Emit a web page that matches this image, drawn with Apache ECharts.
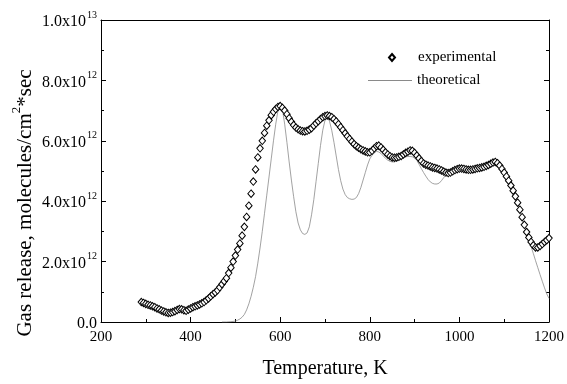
<!DOCTYPE html>
<html>
<head>
<meta charset="utf-8">
<script src="https://cdn.jsdelivr.net/npm/echarts@6/dist/echarts.min.js"></script>
<style>html,body{margin:0;padding:0;background:#fff}#c{width:567px;height:384px}</style>
</head>
<body>
<div id="c"></div>
<script>
// Temperature (K) for experimental points
var expT = [290,295,300,305,310,315,320,325,330,335,340,345,350,355,360,365,370,375,380,385,390,395,400,405,410,415,420,425,430,435,440,445,450,455,460,465,470,475,480,485,490,495,500,505,510,515,520,525,530,535,540,545,550,555,560,565,570,575,580,585,590,595,600,605,610,615,620,625,630,635,640,645,650,655,660,665,670,675,680,685,690,695,700,705,710,715,720,725,730,735,740,745,750,755,760,765,770,775,780,785,790,795,800,805,810,815,820,825,830,835,840,845,850,855,860,865,870,875,880,885,890,895,900,905,910,915,920,925,930,935,940,945,950,955,960,965,970,975,980,985,990,995,1000,1005,1010,1015,1020,1025,1030,1035,1040,1045,1050,1055,1060,1065,1070,1075,1080,1085,1090,1095,1100,1105,1110,1115,1120,1125,1130,1135,1140,1145,1150,1155,1160,1165,1170,1175,1180,1185,1190,1195,1200];
// Experimental gas release (units of 1e12 molecules/cm^2*sec)
var expV = [0.66,0.63,0.60,0.57,0.55,0.52,0.49,0.45,0.42,0.38,0.35,0.32,0.30,0.31,0.33,0.36,0.40,0.43,0.42,0.39,0.37,0.41,0.45,0.49,0.52,0.55,0.58,0.62,0.66,0.72,0.78,0.85,0.92,0.98,1.05,1.15,1.25,1.35,1.45,1.62,1.80,2.00,2.20,2.40,2.60,2.86,3.15,3.48,3.85,4.25,4.65,5.05,5.45,5.75,6.00,6.26,6.50,6.68,6.85,6.96,7.05,7.12,7.15,7.09,7.00,6.88,6.75,6.63,6.52,6.44,6.38,6.34,6.32,6.31,6.33,6.37,6.42,6.50,6.58,6.65,6.72,6.78,6.82,6.84,6.82,6.78,6.72,6.64,6.55,6.45,6.35,6.25,6.15,6.06,5.97,5.89,5.82,5.77,5.72,5.68,5.65,5.62,5.62,5.67,5.75,5.82,5.84,5.78,5.70,5.62,5.55,5.49,5.45,5.44,5.45,5.47,5.50,5.55,5.60,5.64,5.68,5.67,5.60,5.51,5.42,5.33,5.25,5.21,5.18,5.15,5.12,5.10,5.08,5.05,5.02,4.98,4.95,4.93,4.95,4.99,5.03,5.06,5.08,5.08,5.07,5.05,5.04,5.04,5.05,5.07,5.09,5.10,5.12,5.14,5.17,5.20,5.24,5.28,5.30,5.26,5.18,5.07,4.95,4.82,4.68,4.52,4.35,4.16,3.95,3.72,3.47,3.22,2.98,2.80,2.65,2.54,2.47,2.47,2.52,2.58,2.65,2.71,2.78];
// Temperature (K) for theoretical curve
var theoT = [470,480,490,500,505,510,515,520,525,530,535,540,545,550,555,560,565,570,575,580,585,590,595,600,605,610,615,620,625,630,635,640,645,650,655,660,665,670,675,680,685,690,695,700,705,710,715,720,725,730,735,740,745,750,755,760,765,770,775,780,785,790,795,800,805,810,815,820,825,830,835,840,845,850,855,860,865,870,875,880,885,890,895,900,905,910,915,920,925,930,935,940,945,950,955,960,965,970,975,980,985,990,995,1000,1005,1010,1015,1020,1025,1030,1035,1040,1045,1050,1055,1060,1065,1070,1075,1080,1085,1090,1095,1100,1105,1110,1115,1120,1125,1130,1135,1140,1145,1150,1155,1160,1165,1170,1175,1180,1185,1190,1195,1200];
// Theoretical gas release (units of 1e12)
var theoV = [0.00,0.00,0.01,0.03,0.06,0.10,0.16,0.25,0.40,0.60,0.85,1.15,1.50,1.95,2.45,3.00,3.60,4.20,4.80,5.40,6.00,6.55,7.00,7.28,7.05,6.55,5.95,5.30,4.70,4.15,3.65,3.28,3.05,2.93,2.90,2.95,3.15,3.55,4.05,4.65,5.25,5.85,6.35,6.68,6.78,6.65,6.35,5.95,5.50,5.05,4.68,4.40,4.22,4.12,4.08,4.06,4.07,4.12,4.25,4.45,4.70,4.95,5.20,5.40,5.52,5.60,5.65,5.63,5.58,5.50,5.42,5.36,5.32,5.30,5.30,5.33,5.37,5.41,5.45,5.47,5.48,5.48,5.47,5.43,5.35,5.22,5.08,4.95,4.83,4.72,4.64,4.59,4.57,4.57,4.60,4.68,4.78,4.88,4.93,4.97,5.00,5.03,5.05,5.06,5.06,5.05,5.04,5.03,5.03,5.04,5.06,5.08,5.09,5.11,5.13,5.16,5.19,5.23,5.26,5.27,5.22,5.14,5.03,4.91,4.78,4.64,4.48,4.31,4.12,3.91,3.68,3.44,3.20,2.96,2.74,2.50,2.27,2.03,1.80,1.57,1.35,1.13,0.93,0.78];
// Axis ticks
var xTicks = [200,400,600,800,1000,1200];
var yTicks = [0,2,4,6,8,10];
var seriesNames = ['experimental','theoretical'];

var FONT = 'Liberation Serif';
function zip(a,b){var r=[];for(var i=0;i<a.length;i++)r.push([a[i],b[i]]);return r;}
function yFmt(v){
  if (v===0) return '{b|0.0}';
  var val = v*1e12;
  var e = Math.floor(Math.log10(val)+1e-9);
  var m = val/Math.pow(10,e);
  return '{b|'+m.toFixed(1)+'x10}{s|'+e+'}';
}
var chart = echarts.init(document.getElementById('c'), null, {renderer:'canvas'});
var option = {
  animation:false,
  backgroundColor:'#fff',
  grid:{left:101,right:16,top:20,bottom:56,containLabel:false},
  legend:[{
    orient:'vertical', left:388, top:50, padding:0, itemWidth:6, itemHeight:7,
    data:[{name:seriesNames[0], icon:'diamond'}],
    formatter:function(n){return '{sp|}{t|'+n+'}';},
    textStyle:{fontFamily:FONT,fontSize:15,color:'#000',
      rich:{sp:{width:18},t:{fontFamily:FONT,fontSize:15,color:'#000'}}}
  },{
    orient:'vertical', left:368, top:73, padding:0, itemWidth:44, itemHeight:1,
    data:[{name:seriesNames[1], icon:'rect'}],
    textStyle:{fontFamily:FONT,fontSize:15,color:'#000'}
  }],
  xAxis:[{
    type:'value', min:xTicks[0], max:xTicks[xTicks.length-1], interval:200,
    name:'Temperature, K', nameLocation:'middle', nameGap:37,
    nameTextStyle:{fontFamily:FONT,fontSize:20,color:'#000'},
    axisLine:{show:true,onZero:false,lineStyle:{color:'#000',width:1}},
    axisTick:{show:true,inside:true,length:5,lineStyle:{color:'#000'}},
    minorTick:{show:true,splitNumber:2,length:3,lineStyle:{color:'#000'}},
    axisLabel:{fontFamily:FONT,fontSize:15,color:'#000',margin:8,
      formatter:function(v){return String(v);}},
    splitLine:{show:false}
  },{
    type:'value', position:'top', min:200, max:1200, interval:200,
    axisLine:{show:true,onZero:false,lineStyle:{color:'#000',width:1}},
    axisTick:{show:false}, axisLabel:{show:false}, splitLine:{show:false}
  }],
  yAxis:[{
    type:'value', min:yTicks[0], max:yTicks[yTicks.length-1], interval:2,
    axisLine:{show:true,onZero:false,lineStyle:{color:'#000',width:1}},
    axisTick:{show:true,inside:true,length:5,lineStyle:{color:'#000'}},
    minorTick:{show:true,splitNumber:2,length:3,lineStyle:{color:'#000'}},
    axisLabel:{formatter:yFmt,margin:4,color:'#000',
      rich:{b:{fontFamily:FONT,fontSize:16,color:'#000',lineHeight:20,verticalAlign:'bottom'},
            s:{fontFamily:FONT,fontSize:10,color:'#000',lineHeight:20,verticalAlign:'top',padding:[0,0,0,1]}}},
    splitLine:{show:false}
  },{
    type:'value', position:'right', min:0, max:10, interval:2,
    axisLine:{show:true,onZero:false,lineStyle:{color:'#000',width:1}},
    axisTick:{show:true,inside:true,length:5,lineStyle:{color:'#000'}},
    minorTick:{show:true,splitNumber:2,length:3,lineStyle:{color:'#000'}},
    axisLabel:{show:false}, splitLine:{show:false}
  }],
  graphic:[{
    type:'text', x:23, y:203, rotation:Math.PI/2,
    style:{
      text:'{a|Gas release, molecules/cm}{s|2}{a|*sec}',
      align:'center', verticalAlign:'middle',
      rich:{a:{fontFamily:FONT,fontSize:21,fill:'#000',lineHeight:26,verticalAlign:'bottom'},
            s:{fontFamily:FONT,fontSize:13,fill:'#000',lineHeight:26,verticalAlign:'top'}}
    }
  }],
  series:[{
    name:seriesNames[1], type:'line', xAxisIndex:0, yAxisIndex:0,
    data:zip(theoT,theoV), symbol:'none', smooth:false, z:2,
    lineStyle:{color:'#8a8a8a',width:0.8},
    itemStyle:{color:'#8a8a8a'}
  },{
    name:seriesNames[0], type:'scatter', xAxisIndex:0, yAxisIndex:0,
    data:zip(expT,expV), symbol:'diamond', symbolSize:[6.5,7.5], z:3,
    itemStyle:{color:'#fff',borderColor:'#000',borderWidth:1,opacity:1}
  }]
};
chart.setOption(option);
</script>
</body>
</html>
